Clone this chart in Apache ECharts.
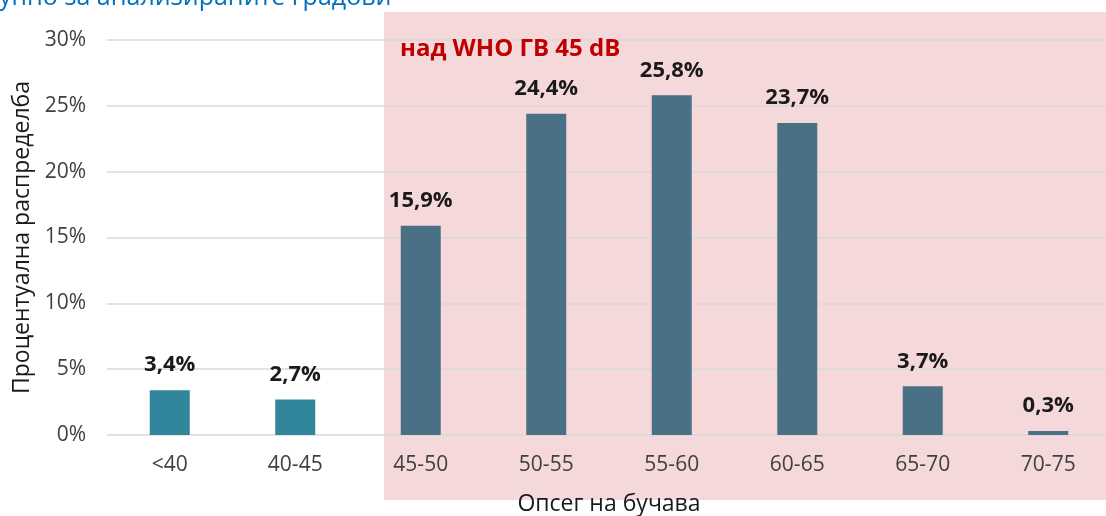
<!DOCTYPE html>
<html>
<head>
<meta charset="utf-8">
<script src="https://cdn.jsdelivr.net/npm/echarts@6/dist/echarts.min.js"></script>
<style>
  html, body { margin: 0; padding: 0; background: #fff; }
  #chart { width: 1106px; height: 516px; }
</style>
</head>
<body>
<div id="chart"></div>
<script>
const categories = ["<40", "40-45", "45-50", "50-55", "55-60", "60-65", "65-70", "70-75"];
const shares = [3.4, 2.7, 15.9, 24.4, 25.8, 23.7, 3.7, 0.3];
const yTicks = [0, 5, 10, 15, 20, 25, 30];
const thresholdText = "над WHO ГВ 45 dB";
const headingText = "упно за анализираните градови";

const font = "'Open Sans', 'Noto Sans', sans-serif";
const chart = echarts.init(document.getElementById("chart"));

function pct(value) {
  return String(value).replace(".", ",") + "%";
}

chart.setOption({
  animation: false,
  textStyle: { fontFamily: font },
  grid: { left: 107, top: 40, width: 1004, height: 395, containLabel: false, outerBoundsMode: "none" },
  graphic: [
    {
      type: "rect",
      z: -10,
      shape: { x: 384, y: 12, width: 740, height: 488 },
      style: { fill: "#f5d8da" },
      silent: true
    },
    {
      type: "text",
      left: -1,
      top: -15,
      style: { text: headingText, fill: "#0070c0", font: "25px " + font }
    },
    {
      type: "text",
      left: 400,
      top: 37,
      z: 10,
      style: { text: thresholdText, fill: "#c00000", font: "bold 24px " + font }
    }
  ],
  xAxis: {
    type: "category",
    data: categories,
    name: "Опсег на бучава",
    nameLocation: "middle",
    nameGap: 58,
    nameTextStyle: { fontSize: 23, color: "#1a1a1a", fontFamily: font },
    axisLine: { show: false },
    axisTick: { show: false },
    axisLabel: { fontSize: 21, color: "#404040", margin: 20, fontFamily: font }
  },
  yAxis: {
    type: "value",
    min: yTicks[0],
    max: yTicks[yTicks.length - 1],
    interval: yTicks[1] - yTicks[0],
    name: "Процентуална распределба",
    nameLocation: "middle",
    nameGap: 72,
    nameTextStyle: { fontSize: 23, color: "#1a1a1a", fontFamily: font },
    axisLine: { show: false },
    axisTick: { show: false },
    axisLabel: { fontSize: 21, color: "#404040", margin: 21, formatter: (v) => v + "%", fontFamily: font },
    splitLine: { lineStyle: { color: "#d9d9d9", width: 1.5 } }
  },
  series: [
    {
      type: "bar",
      data: shares,
      barWidth: 40,
      itemStyle: {
        color: (p) => (p.dataIndex < 2 ? "#31869b" : "#4a7085")
      },
      label: {
        show: true,
        position: "top",
        distance: 14,
        formatter: (p) => pct(p.value),
        fontSize: 22,
        fontWeight: "bold",
        color: "#1a1a1a",
        fontFamily: font
      }
    }
  ]
});
</script>
</body>
</html>
